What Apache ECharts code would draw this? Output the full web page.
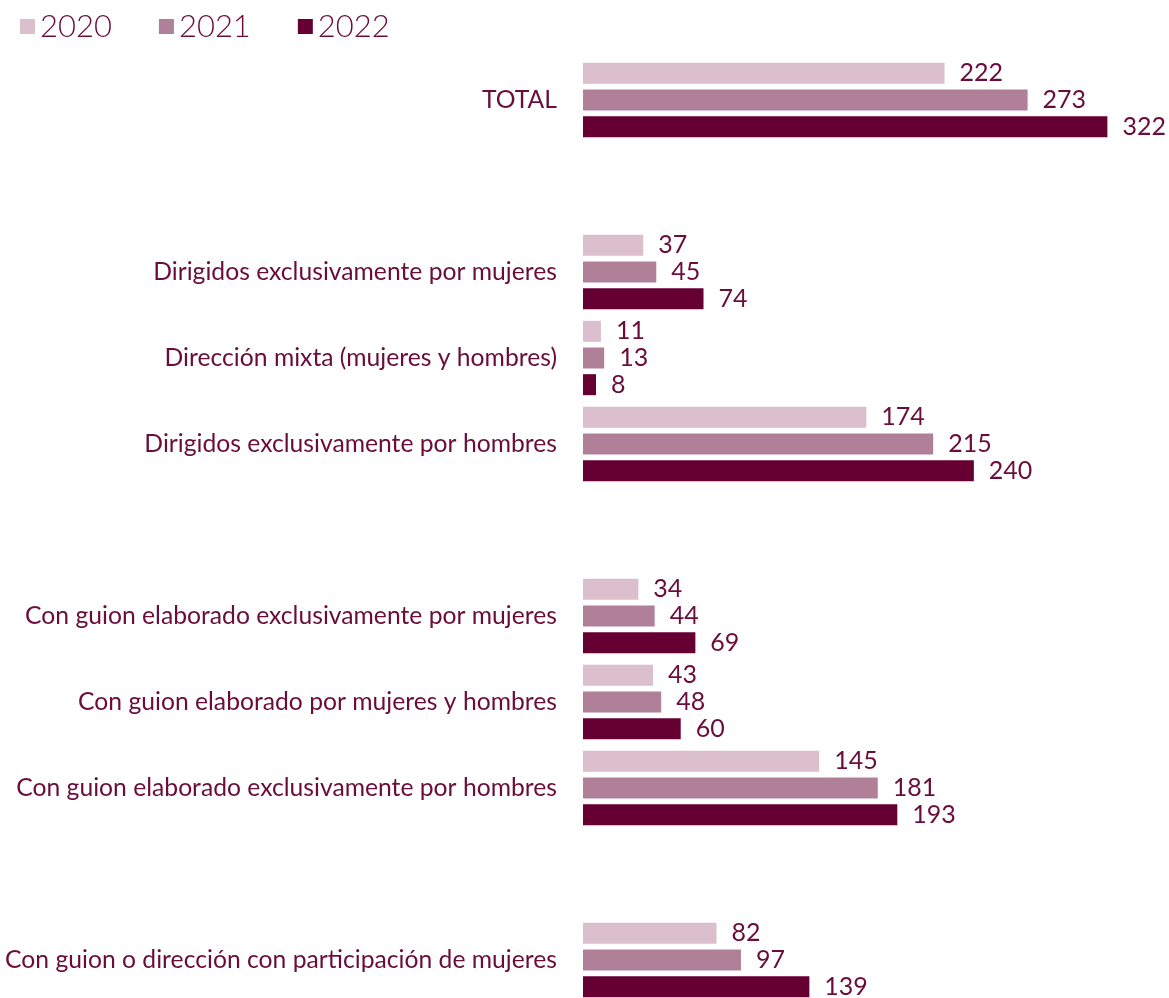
<!DOCTYPE html>
<html>
<head>
<meta charset="utf-8">
<script src="https://cdn.jsdelivr.net/npm/echarts@6/dist/echarts.min.js"></script>
<style>
    html, body { margin: 0; padding: 0; background: #fff; }
    #chart { width: 1169px; height: 998px; }
</style>
</head>
<body>
<div id="chart"></div>
<script>
// categorias (las vacias hacen de separacion entre bloques)
var categories = [
    'TOTAL',
    '',
    'Dirigidos exclusivamente por mujeres',
    'Dirección mixta (mujeres y hombres)',
    'Dirigidos exclusivamente por hombres',
    '',
    'Con guion elaborado exclusivamente por mujeres',
    'Con guion elaborado por mujeres y hombres',
    'Con guion elaborado exclusivamente por hombres',
    '',
    'Con guion o dirección con participación de mujeres'
];
var years = ['2020', '2021', '2022'];
var v2020 = [222, null, 37, 11, 174, null, 34, 43, 145, null, 82];
var v2021 = [273, null, 45, 13, 215, null, 44, 48, 181, null, 97];
var v2022 = [322, null, 74, 8, 240, null, 69, 60, 193, null, 139];

var colors = ['#dbbfcc', '#b07f98', '#660033'];
var textColor = '#6a0d3a';
var font = 'Lato';

function makeSeries(name, data, color) {
    return {
        name: name,
        type: 'bar',
        data: data,
        barWidth: 21,
        barGap: '27%',
        itemStyle: { color: color },
        label: {
            show: true,
            position: 'right',
            distance: 15,
            color: textColor,
            fontFamily: font,
            fontSize: 25
        }
    };
}

var myChart = echarts.init(document.getElementById('chart'));
var option = {
    animation: false,
    legend: {
        left: 15,
        top: 6,
        icon: 'rect',
        itemWidth: 15,
        itemHeight: 15,
        itemGap: 47,
        textStyle: {
            color: textColor,
            fontFamily: font,
            fontWeight: 300,
            fontSize: 31
        },
        data: years
    },
    grid: {
        left: 583,
        right: 16,
        top: 57,
        height: 946,
        outerBoundsMode: 'none'
    },
    xAxis: {
        type: 'value',
        min: 0,
        max: 350,
        show: false
    },
    yAxis: {
        type: 'category',
        inverse: true,
        data: categories,
        axisLine: { show: false },
        axisTick: { show: false },
        axisLabel: {
            margin: 26,
            color: textColor,
            fontFamily: font,
            fontSize: 24.7
        }
    },
    series: [
        makeSeries(years[0], v2020, colors[0]),
        makeSeries(years[1], v2021, colors[1]),
        makeSeries(years[2], v2022, colors[2])
    ]
};
myChart.setOption(option);
</script>
</body>
</html>
